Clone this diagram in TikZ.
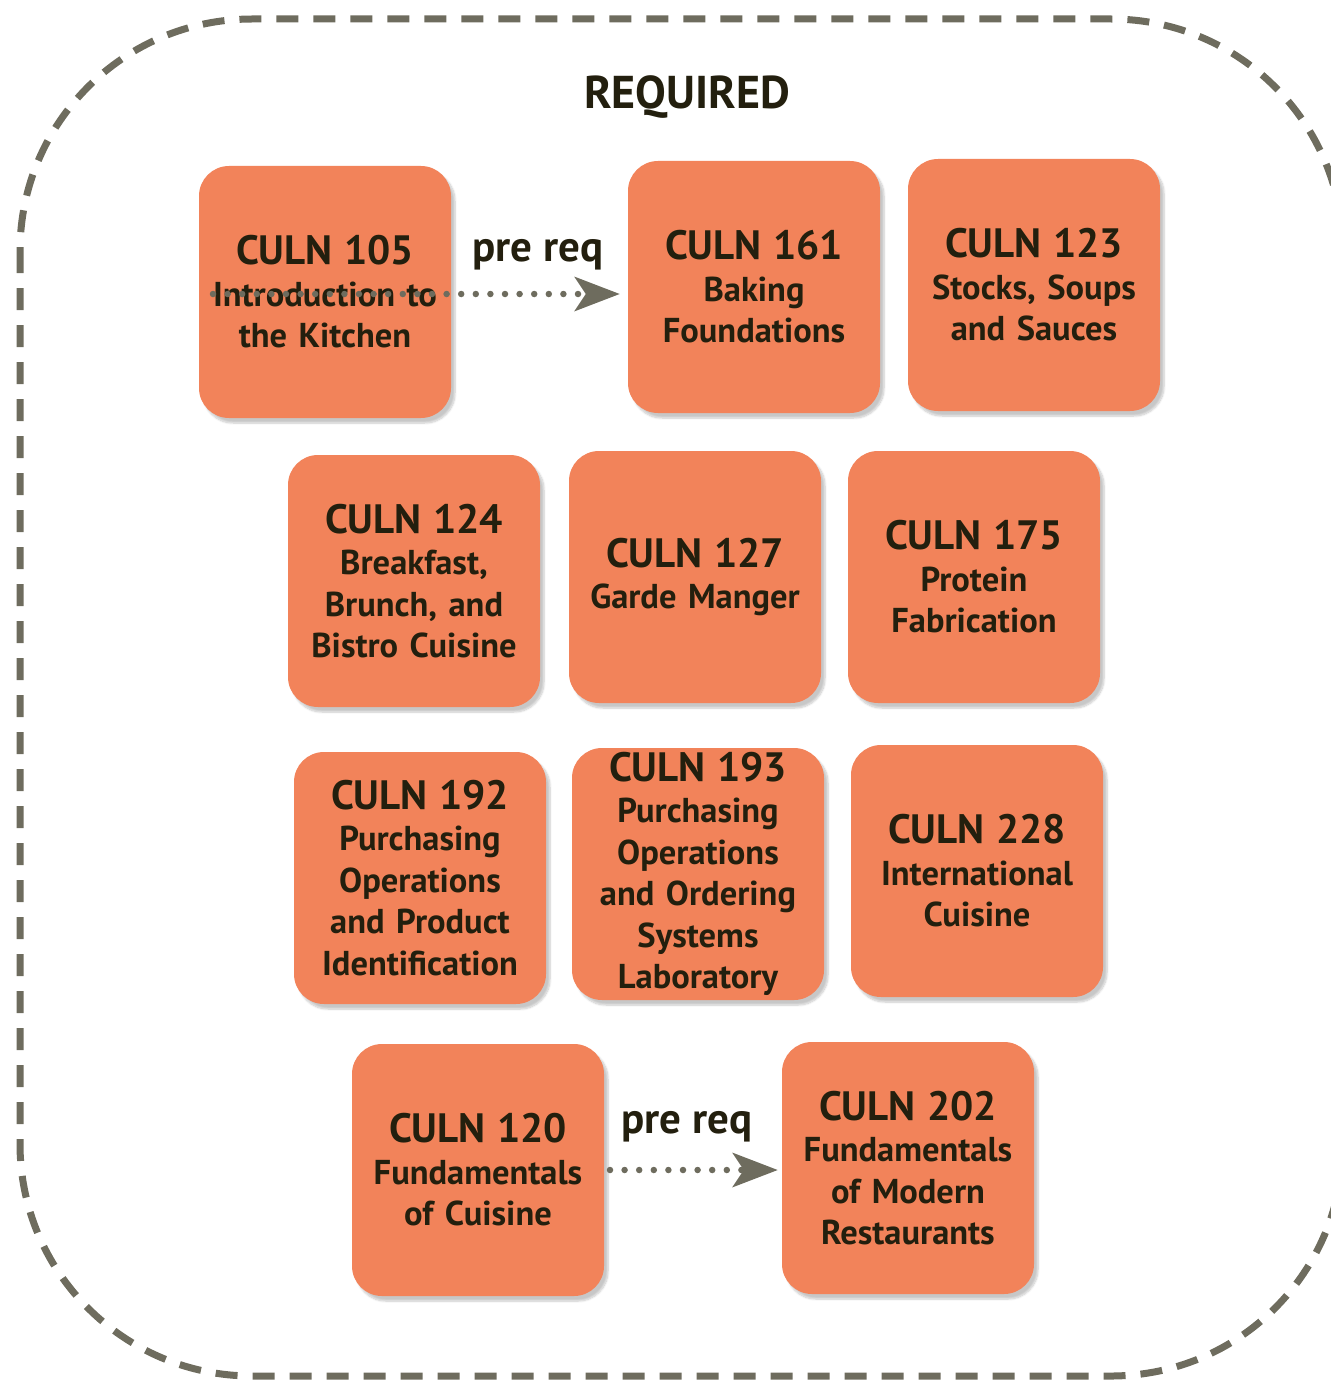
\documentclass[tikz,border=0pt]{standalone}
\usepackage{fontspec}
\setmainfont{PT Sans}
\usetikzlibrary{arrows.meta,shadows.blur}
\definecolor{boxfill}{HTML}{F2835A}
\definecolor{ink}{HTML}{231F0E}
\definecolor{frame}{HTML}{6E6C5E}
\tikzset{
  course/.style={draw=none, fill=boxfill, rounded corners=30pt, minimum width=252pt, minimum height=252pt,
    text width=244pt, align=center, text=ink, inner sep=0pt,
    font=\bfseries\fontsize{34.5}{41.5}\selectfont,
    blur shadow={shadow xshift=4pt, shadow yshift=-5pt, shadow blur steps=8, shadow blur extra rounding=4pt, shadow opacity=22}},
  prereq/.style={text=ink, font=\bfseries\fontsize{43}{46}\selectfont, inner sep=0pt},
  dotline/.style={draw=frame, line width=6.5pt, line cap=round, dash pattern=on 0pt off 14.6pt,
    -{Stealth[length=45pt,width=34pt,inset=11pt]}}
}
\newcommand{\tl}[1]{{\fontsize{41}{44}\selectfont #1}}
\begin{document}
\begin{tikzpicture}[x=1pt,y=-1pt]
\useasboundingbox (0,0) rectangle (1330,1383);
\draw[frame, line width=7pt, dash pattern=on 22pt off 15pt, rounded corners=232pt] (20,19) rectangle (1343,1376);
\node[text=ink, font=\bfseries\fontsize{46}{50}\selectfont] (req) at (687,97) {REQUIRED};

\node[course] (c105) at (325,292) {\tl{CULN 105}\\Introduction to\\the Kitchen};
\node[course] (c161) at (754,287) {\tl{CULN 161}\\Baking\\Foundations};
\node[course] (c123) at (1034,285) {\tl{CULN 123}\\Stocks, Soups\\and Sauces};
\node[course] (c124) at (414,581) {\tl{CULN 124}\\Breakfast,\\Brunch, and\\Bistro Cuisine};
\node[course] (c127) at (695,577) {\tl{CULN 127}\\Garde Manger};
\node[course] (c175) at (974,577) {\tl{CULN 175}\\Protein\\Fabrication};
\node[course] (c192) at (420,878) {\tl{CULN 192}\\Purchasing\\Operations\\and Product\\Identification};
\node[course] (c193) at (698,874) {\tl{CULN 193}\\Purchasing\\Operations\\and Ordering\\Systems\\Laboratory};
\node[course] (c228) at (977,871) {\tl{CULN 228}\\International\\Cuisine};
\node[course] (c120) at (478,1170) {\tl{CULN 120}\\Fundamentals\\of Cuisine};
\node[course] (c202) at (908,1168) {\tl{CULN 202}\\Fundamentals\\of Modern\\Restaurants};

\node[prereq] (p1) at (538,255) {pre req};
\node[prereq] (p2) at (687,1127) {pre req};

\coordinate (a1) at (213,294);
\coordinate (a2) at (610,1170);
\draw[dotline] (a1) -- ([xshift=-8pt]a1 -| c161.west);
\draw[dotline] (a2) -- ([xshift=-4pt]a2 -| c202.west);
\end{tikzpicture}
\end{document}
